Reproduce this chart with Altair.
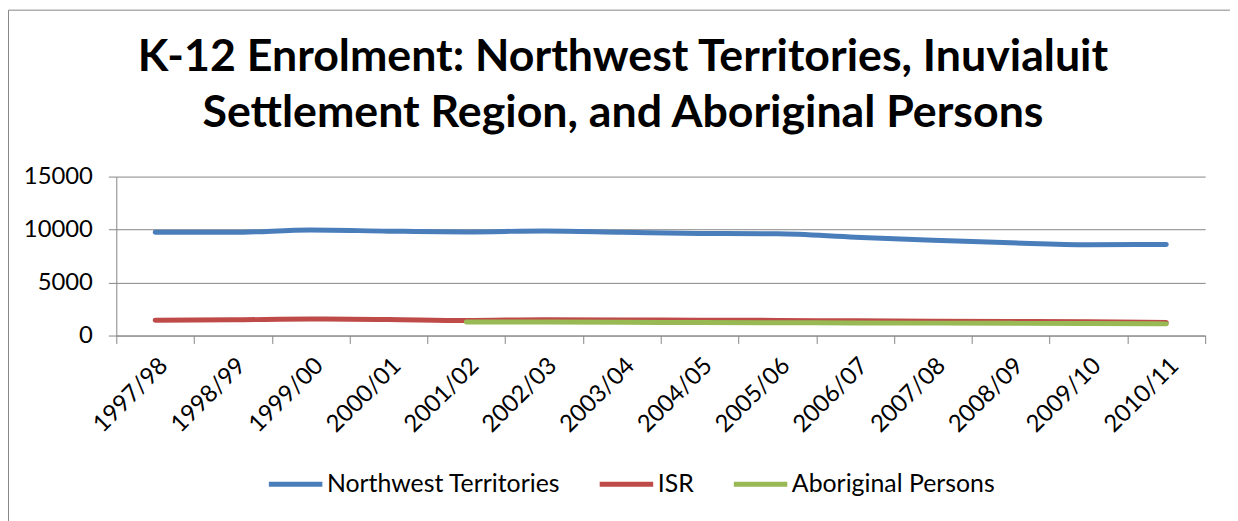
import altair as alt
import pandas as pd

years = ["1997/98", "1998/99", "1999/00", "2000/01", "2001/02", "2002/03", "2003/04",
         "2004/05", "2005/06", "2006/07", "2007/08", "2008/09", "2009/10", "2010/11"]
nwt = [9750, 9740, 9960, 9850, 9780, 9870, 9750, 9630, 9600, 9280, 9000, 8750, 8570, 8600]
isr = [1450, 1480, 1560, 1510, 1420, 1500, 1470, 1450, 1430, 1390, 1360, 1330, 1300, 1240]
aboriginal = [None, None, None, None, 1280, 1270, 1250, 1230, 1210, 1190, 1170, 1150, 1130, 1100]
series = ["Northwest Territories", "ISR", "Aboriginal Persons"]
colors = ["#4A7EBB", "#BE4B48", "#98B954"]
title_lines = ["K-12 Enrolment: Northwest Territories, Inuvialuit",
               "Settlement Region, and Aboriginal Persons"]

rows = []
for name, vals in zip(series, [nwt, isr, aboriginal]):
    for y, v in zip(years, vals):
        if v is not None:
            rows.append({"Year": y, "Series": name, "Value": v})
df = pd.DataFrame(rows)

GRAY = "#868686"
FONT = "Lato"

x_enc = alt.X("Year:N", sort=years, bandPosition=0.5,
              scale=alt.Scale(type="band", domain=years, paddingInner=0, paddingOuter=0),
              axis=alt.Axis(title=None, labelAngle=-45, labelAlign="right", labelBaseline="top",
                            labelOffset=0, labelPadding=10, tickBand="extent", grid=False,
                            domainColor=GRAY, tickColor=GRAY, tickSize=8,
                            labelFont=FONT, labelFontSize=24, labelColor="black"))
y_enc = alt.Y("Value:Q", scale=alt.Scale(domain=[0, 15000]),
              axis=alt.Axis(title=None, values=[0, 5000, 10000, 15000], format="d",
                            grid=True, gridColor=GRAY, domainColor=GRAY, tickColor=GRAY,
                            tickSize=8, labelPadding=16, labelFont=FONT, labelFontSize=24,
                            labelColor="black"))
color_enc = alt.Color("Series:N",
                      scale=alt.Scale(domain=series, range=colors),
                      legend=alt.Legend(title=None, orient="none", legendX=151, legendY=280,
                                        direction="horizontal", symbolType="stroke",
                                        symbolSize=2900, symbolStrokeWidth=5,
                                        labelFont=FONT, labelFontSize=25, labelColor="black",
                                        labelLimit=600, labelOffset=2, columnPadding=29))

layers = []
for s in series:
    layers.append(
        alt.Chart(df).transform_filter(alt.datum.Series == s)
        .mark_line(strokeWidth=5, interpolate="monotone", strokeCap="round")
        .encode(x=x_enc, y=y_enc, color=color_enc)
    )

frame = alt.Chart(pd.DataFrame({"f": [0]})).mark_rect(fill=None, stroke=GRAY, strokeWidth=1).encode(
    x=alt.value(-108.5), x2=alt.value(3000), y=alt.value(-167.5), y2=alt.value(3000))

chart = alt.layer(frame, *layers).properties(
    width=1096, height=160,
    padding={"left": 109, "right": 25, "top": 168, "bottom": 185},
    autosize=alt.AutoSizeParams(type="none"),
    title=alt.Title(title_lines, font=FONT, fontSize=45, fontWeight="bold", color="black",
                    lineHeight=56, anchor="middle", frame="group", dx=-38, offset=-127),
).configure_view(stroke=None)

chart.save("out.html", embed_options={"renderer": "svg", "actions": False})
